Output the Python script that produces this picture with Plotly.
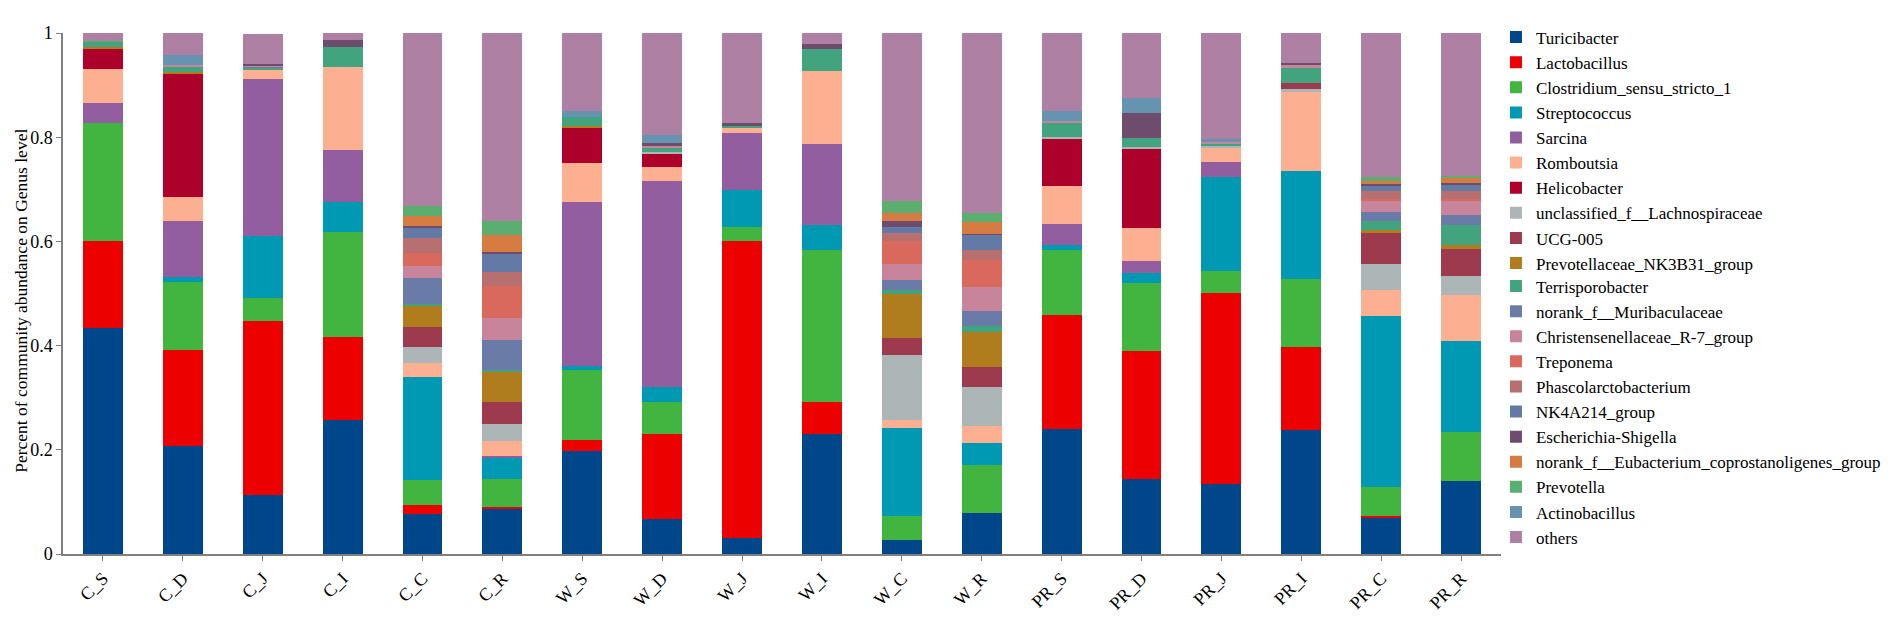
import plotly.graph_objects as go

samples = ["C_S", "C_D", "C_J", "C_I", "C_C", "C_R",
           "W_S", "W_D", "W_J", "W_I", "W_C", "W_R",
           "PR_S", "PR_D", "PR_J", "PR_I", "PR_C", "PR_R"]

# relative abundance per genus, one value per sample
turicibacter = [.434, .208, .113, .257, .077, .088, .197, .068, .030, .230, .026, .079, .240, .144, .134, .238, .070, .141]
lactobacillus = [.167, .184, .335, .160, .018, .003, .022, .162, .571, .062, 0, 0, .219, .245, .367, .160, .003, 0]
clostridium = [.227, .130, .043, .202, .047, .053, .134, .061, .026, .291, .046, .092, .124, .132, .042, .129, .055, .094]
streptococcus = [0, .009, .119, .057, .197, .041, .008, .030, .072, .048, .170, .043, .011, .018, .180, .209, .329, .174]
sarcina = [.037, .108, .301, .099, 0, .003, .315, .394, .109, .155, 0, 0, .040, .023, .030, 0, 0, 0]
romboutsia = [.066, .047, .019, .160, .027, .028, .074, .027, .010, .141, .016, .031, .073, .063, .026, .150, .050, .089]
helicobacter = [.040, .237, 0, 0, 0, 0, .068, .026, 0, 0, 0, 0, .089, .153, 0, 0, 0, 0]
unclassified_lachno = [0, 0, 0, 0, .031, .033, 0, .003, 0, 0, .124, .076, .005, .003, .004, .007, .049, .036]
ucg005 = [0, 0, 0, 0, .038, .043, 0, 0, 0, 0, .033, .037, 0, 0, 0, .012, .060, .052]
prevotellaceae = [.002, .003, 0, 0, .042, .058, .003, 0, 0, 0, .085, .069, 0, 0, 0, 0, .005, .008]
terrisporobacter = [.010, .008, .002, .038, .003, .003, .018, .009, .004, .043, .006, .010, .026, .018, .005, .028, .018, .037]
muribaculaceae = [0, 0, .004, 0, .049, .057, 0, 0, 0, 0, .020, .030, 0, 0, 0, 0, .017, .020]
christensenellaceae = [0, .004, .002, 0, .024, .043, 0, .004, 0, 0, .030, .046, .005, 0, .003, .005, .022, .026]
treponema = [0, 0, 0, 0, .024, .061, 0, 0, 0, 0, .045, .052, 0, 0, 0, 0, .003, .004]
phascolarcto = [0, 0, 0, 0, .029, .028, 0, 0, 0, 0, .016, .018, 0, 0, 0, 0, .015, .015]
nk4a214 = [0, 0, 0, 0, .020, .033, 0, 0, 0, 0, .011, .030, 0, 0, 0, 0, .010, .012]
escherichia = [0, 0, .003, .013, .003, .004, 0, .004, .005, .009, .012, .002, 0, .048, 0, .005, .005, .005]
eubacterium = [0, 0, 0, 0, .020, .033, 0, 0, 0, 0, .014, .023, 0, 0, 0, 0, .005, .008]
prevotella = [.002, 0, 0, 0, .018, .028, 0, 0, 0, 0, .023, .016, 0, 0, 0, 0, .008, .005]
actinobacillus = [0, .020, 0, 0, 0, 0, .011, .017, 0, 0, 0, 0, .018, .028, .005, 0, 0, 0]
others = [.015, .042, .058, .014, .333, .360, .150, .195, .173, .021, .323, .346, .150, .125, .204, .057, .276, .274]

genera = [
    ("Turicibacter", turicibacter, "#00468B"),
    ("Lactobacillus", lactobacillus, "#ED0000"),
    ("Clostridium_sensu_stricto_1", clostridium, "#42B540"),
    ("Streptococcus", streptococcus, "#0099B4"),
    ("Sarcina", sarcina, "#925E9F"),
    ("Romboutsia", romboutsia, "#FDAF91"),
    ("Helicobacter", helicobacter, "#AD002A"),
    ("unclassified_f__Lachnospiraceae", unclassified_lachno, "#ADB6B6"),
    ("UCG-005", ucg005, "#9E3A4E"),
    ("Prevotellaceae_NK3B31_group", prevotellaceae, "#B07D1E"),
    ("Terrisporobacter", terrisporobacter, "#42A47E"),
    ("norank_f__Muribaculaceae", muribaculaceae, "#6B7BA8"),
    ("Christensenellaceae_R-7_group", christensenellaceae, "#C7849B"),
    ("Treponema", treponema, "#D9695C"),
    ("Phascolarctobacterium", phascolarcto, "#B86F6F"),
    ("NK4A214_group", nk4a214, "#637AA6"),
    ("Escherichia-Shigella", escherichia, "#6E4C6E"),
    ("norank_f__Eubacterium_coprostanoligenes_group", eubacterium, "#D67B42"),
    ("Prevotella", prevotella, "#5BAE70"),
    ("Actinobacillus", actinobacillus, "#6693B0"),
    ("others", others, "#AE80A3"),
]

fig = go.Figure()
for i, (name, vals, col) in enumerate(genera):
    # one tall legend would get a scrollbar, so the list is split over two stacked legends
    fig.add_trace(go.Bar(x=samples, y=vals, name=name,
                         legend="legend" if i < 10 else "legend2",
                         marker=dict(color=col, line=dict(width=0))))

font = "Liberation Serif, Times New Roman, serif"
axis_col = "#808080"
leg_font = dict(family=font, size=17)

fig.update_layout(
    width=1902, height=618,
    barmode="stack", bargap=0.5,
    plot_bgcolor="white", paper_bgcolor="white",
    margin=dict(l=55, r=409, t=12, b=51),
    font=dict(family=font, size=18, color="black"),
    legend=dict(traceorder="normal", x=0.9965, xanchor="left", y=1.0258, yanchor="top",
                font=leg_font, bgcolor="rgba(0,0,0,0)"),
    legend2=dict(traceorder="normal", x=0.9965, xanchor="left", y=0.548, yanchor="top",
                 font=leg_font, bgcolor="rgba(0,0,0,0)"),
    showlegend=True,
)
fig.update_xaxes(showline=True, linecolor=axis_col, linewidth=1.5,
                 ticks="outside", ticklen=5, tickcolor=axis_col,
                 tickangle=-45, tickfont=dict(family=font, size=18),
                 range=[-0.5, 17.5])
fig.update_yaxes(range=[0, 1], showgrid=False, zeroline=False,
                 showline=True, linecolor=axis_col, linewidth=1.5,
                 ticks="outside", ticklen=5, tickcolor=axis_col,
                 tickvals=[0, 0.2, 0.4, 0.6, 0.8, 1],
                 ticktext=["0", "0.2", "0.4", "0.6", "0.8", "1"],
                 tickfont=dict(family=font, size=18))

# y axis title sits slightly below the plot centre in the original
fig.add_annotation(text="Percent of community abundance on Genus level",
                   xref="paper", yref="paper", x=-0.0292, y=0.486,
                   xanchor="center", yanchor="middle", textangle=-90,
                   showarrow=False, font=dict(family=font, size=17.5))

fig.write_html("out.html")
